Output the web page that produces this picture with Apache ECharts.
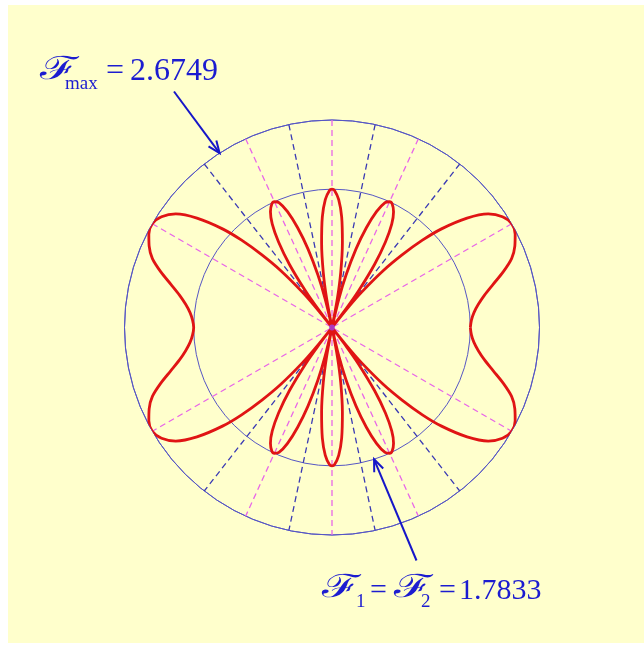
<!DOCTYPE html>
<html>
<head>
<meta charset="utf-8">
<script src="https://cdn.jsdelivr.net/npm/echarts@6/dist/echarts.min.js"></script>
<style>
  html, body { margin: 0; padding: 0; background: #ffffff; }
  #chart { width: 644px; height: 648px; }
</style>
</head>
<body>
<div id="chart"></div>
<script>
// Pattern magnitude over one quadrant; angle in degrees from the horizontal axis.
const quadrantAngles = [0, 3, 6, 9, 12, 15, 18, 21, 24, 27, 30, 33, 36, 39, 42, 44, 46, 48, 50, 51, 52,
  53, 54, 56, 58, 60, 62, 64, 65.4, 67, 69, 71, 73, 75, 76.5, 78,
  79.5, 81, 83, 85, 87, 89, 90];
const quadrantValues = [1.783, 1.80, 1.84, 1.91, 2.01, 2.15, 2.32, 2.48, 2.58, 2.65, 2.675, 2.62, 2.49, 2.24, 1.90, 1.62, 1.30, 0.98, 0.60, 0.35, 0,
  0.32, 0.58, 0.98, 1.30, 1.54, 1.69, 1.77, 1.783, 1.75, 1.60, 1.36, 1.06, 0.70, 0.38, 0,
  0.38, 0.72, 1.10, 1.43, 1.65, 1.77, 1.783];

const F_MAX = 2.6749;   // main lobe level (outer circle)
const F_SIDE = 1.7833;  // side lobe level (inner circle)

// Directions of lobe maxima and of nulls in the first quadrant (degrees)
const lobeDirections = [30, 65.4, 90];
const nullDirections = [52, 78];

// Full pattern, mirrored across both axes
function fullPattern() {
  const pts = [];
  const n = quadrantAngles.length;
  for (let i = 0; i < n; i++) pts.push([quadrantValues[i], quadrantAngles[i]]);
  for (let i = n - 2; i >= 0; i--) pts.push([quadrantValues[i], 180 - quadrantAngles[i]]);
  for (let i = 1; i < n; i++) pts.push([quadrantValues[i], 180 + quadrantAngles[i]]);
  for (let i = n - 2; i >= 0; i--) pts.push([quadrantValues[i], 360 - quadrantAngles[i]]);
  return pts;
}

// A straight line through the pole along the given direction
function diameter(deg, color) {
  return {
    type: 'line', coordinateSystem: 'polar', symbol: 'none', silent: true, z: 3,
    data: [[F_MAX, deg], [F_MAX, deg + 180]],
    lineStyle: { color: color, width: 1.3, type: [6, 4] }
  };
}

const MAGENTA = '#e866e8';
const BLUE_DASH = '#3a3ab4';
const series = [];
lobeDirections.forEach(d => {
  series.push(diameter(d, MAGENTA));
  if (d !== 90) series.push(diameter(180 - d, MAGENTA));
});
nullDirections.forEach(d => {
  series.push(diameter(d, BLUE_DASH));
  series.push(diameter(180 - d, BLUE_DASH));
});
series.push({
  type: 'line', coordinateSystem: 'polar', symbol: 'none', silent: true, z: 5,
  smooth: 0.3,
  data: fullPattern(),
  lineStyle: { color: '#e01414', width: 2.8 }
});
series.push({
  type: 'scatter', coordinateSystem: 'polar', silent: true, z: 6,
  data: [[0, 0]], symbolSize: 6, itemStyle: { color: '#a040e8' }
});

const chart = echarts.init(document.getElementById('chart'), null, { renderer: 'canvas' });
const CIRCLE = '#5656c4';
chart.setOption({
  animation: false,
  backgroundColor: '#ffffff',
  polar: { center: [332, 327.5], radius: 207.5 },
  angleAxis: {
    type: 'value', min: 0, max: 360, startAngle: 0, clockwise: false,
    axisLine: { show: true, lineStyle: { color: CIRCLE, width: 1 } },
    axisTick: { show: false }, axisLabel: { show: false }, splitLine: { show: false }
  },
  radiusAxis: {
    type: 'value', min: 0, max: F_MAX, interval: F_SIDE,
    axisLine: { show: false }, axisTick: { show: false }, axisLabel: { show: false },
    splitLine: { show: true, lineStyle: { color: CIRCLE, width: 1 } }
  },
  series: series
});

// Annotation arrows pointing at the two reference circles
const ARROW = '#1616c8';
function arrow(start, tip) {
  const dx = tip[0] - start[0], dy = tip[1] - start[1];
  const len = Math.hypot(dx, dy);
  const ux = dx / len, uy = dy / len;
  const L = 13, a = 22 * Math.PI / 180;
  const arm = s => [tip[0] - L * (ux * Math.cos(a) - s * uy * Math.sin(a)),
                    tip[1] - L * (uy * Math.cos(a) + s * ux * Math.sin(a))];
  return [
    { type: 'line', z: 20, shape: { x1: start[0], y1: start[1], x2: tip[0], y2: tip[1] },
      style: { stroke: ARROW, lineWidth: 2 } },
    { type: 'polyline', z: 20, shape: { points: [arm(1), tip, arm(-1)] },
      style: { stroke: ARROW, lineWidth: 2, fill: null } }
  ];
}
const tipOuter = chart.convertToPixel({ seriesIndex: series.length - 2 }, [F_MAX, 122.8]);
const tipInner = chart.convertToPixel({ seriesIndex: series.length - 2 }, [F_SIDE, 287.7]);

const TEXT = '#1c1cd0';
const SERIF = '"Liberation Serif", "Times New Roman", serif';
const SCRIPT = '200 32px "DejaVu Sans", "DejaVu Serif", serif';
function label(x, y, text, font) {
  return { type: 'text', z: 20, style: { x: x, y: y, text: text, font: font, fill: TEXT,
    textAlign: 'left', textVerticalAlign: 'middle' } };
}
// Script letter, stretched sideways so its swash reaches over the subscript
function script(x, y) {
  return { type: 'text', z: 20, x: x, y: y, scaleX: 1.45, scaleY: 1,
    style: { x: 0, y: 0, text: '\u2131', font: SCRIPT, fill: TEXT,
      textAlign: 'left', textVerticalAlign: 'middle' } };
}

chart.setOption({
  graphic: [
    { type: 'rect', z: -100, silent: true, shape: { x: 8, y: 5, width: 636, height: 638 },
      style: { fill: '#ffffcc' } },
    ...arrow([174, 91.5], tipOuter),
    ...arrow([416.5, 560.5], tipInner),
    script(40, 71),
    label(65, 84, 'max', '19px ' + SERIF),
    label(106, 72, '=', '32px ' + SERIF),
    label(130, 72, '2.6749', '32px ' + SERIF),
    script(322, 589),
    label(356, 602, '1', '19px ' + SERIF),
    label(370, 591, '=', '30px ' + SERIF),
    script(394, 589),
    label(421, 602, '2', '19px ' + SERIF),
    label(439, 591, '=', '30px ' + SERIF),
    label(459, 591, '1.7833', '30px ' + SERIF)
  ]
});
</script>
</body>
</html>
